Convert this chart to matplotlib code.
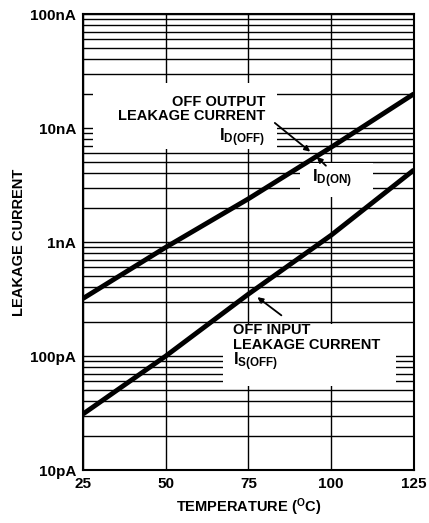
import matplotlib
matplotlib.use('Agg')
import matplotlib.pyplot as plt
from matplotlib.patches import Rectangle
from matplotlib.ticker import LogLocator, NullFormatter

plt.rcParams['font.family'] = ['Liberation Sans', 'DejaVu Sans']
plt.rcParams['font.weight'] = 'bold'
plt.rcParams['mathtext.default'] = 'regular'

# data
temp = [25, 50, 75, 100, 125]
i_d_off = [0.32e-9, 0.9e-9, 2.4e-9, 6.8e-9, 20e-9]
i_s_off = [31e-12, 100e-12, 0.35e-9, 1.15e-9, 4.3e-9]

x_ticks = [25, 50, 75, 100, 125]
y_ticks = [1e-11, 1e-10, 1e-9, 1e-8, 1e-7]
y_labels = ['10pA', '100pA', '1nA', '10nA', '100nA']

fig = plt.figure(figsize=(4.29, 5.23), dpi=100)
ax = fig.add_axes([0.1935, 0.1013, 0.7715, 0.8717])

ax.set_yscale('log')
ax.set_xlim(25, 125)
ax.set_ylim(1e-11, 1e-7)
ax.set_xticks(x_ticks)
ax.set_xticklabels([str(t) for t in x_ticks], fontsize=11, fontweight='bold')
ax.set_yticks(y_ticks)
ax.set_yticklabels(y_labels, fontsize=11, fontweight='bold')
ax.yaxis.set_minor_locator(LogLocator(base=10, subs=range(2, 10)))
ax.yaxis.set_minor_formatter(NullFormatter())
ax.tick_params(which='both', length=0, pad=5)

ax.set_axisbelow(True)
ax.grid(True, which='both', axis='y', color='black', lw=1.0)
ax.grid(True, which='major', axis='x', color='black', lw=1.0)
for s in ax.spines.values():
    s.set_linewidth(1.5)

# white blanks behind the labels
for x0, x1, y0, y1 in [(28, 83.6, 6.5e-9, 25e-9),
                       (90.6, 112.6, 2.5e-9, 4.9e-9),
                       (67.3, 119.6, 55e-12, 0.19e-9)]:
    ax.add_patch(Rectangle((x0, y0), x1 - x0, y1 - y0, facecolor='white',
                           edgecolor='none', zorder=1))

ax.plot(temp, i_d_off, color='black', lw=3.5, zorder=3, solid_capstyle='butt')
ax.plot(temp, i_s_off, color='black', lw=3.5, zorder=3, solid_capstyle='butt')

kw = dict(fontsize=10.5, fontweight='bold', va='center', zorder=4)
sub = dict(fontsize=12, fontweight='bold', va='center', zorder=4)
ax.text(80, 16.9e-9, 'OFF OUTPUT', ha='right', **kw)
ax.text(80, 12.7e-9, 'LEAKAGE CURRENT', ha='right', **kw)
ax.text(80, 8.3e-9, r'$\mathregular{I_{D(OFF)}}$', ha='right', **sub)
ax.text(94.3, 3.6e-9, r'$\mathregular{I_{D(ON)}}$', ha='left', **sub)
ax.text(70.3, 0.169e-9, 'OFF INPUT', ha='left', **kw)
ax.text(70.3, 0.125e-9, 'LEAKAGE CURRENT', ha='left', **kw)
ax.text(70.3, 90e-12, r'$\mathregular{I_{S(OFF)}}$', ha='left', **sub)

arrow = dict(arrowstyle='-|>', color='black', lw=1.3, mutation_scale=8)
ax.annotate('', xy=(94.3, 6.0e-9), xytext=(82.3, 11.5e-9), arrowprops=arrow, zorder=4)
ax.annotate('', xy=(95, 5.8e-9), xytext=(99, 4.5e-9), arrowprops=arrow, zorder=4)
ax.annotate('', xy=(77, 0.34e-9), xytext=(85.6, 0.22e-9), arrowprops=arrow, zorder=4)

ax.set_xlabel(r'TEMPERATURE ($^\mathregular{O}$C)', fontsize=10.5, fontweight='bold', labelpad=4)
ax.set_ylabel('LEAKAGE CURRENT', fontsize=10.5, fontweight='bold', labelpad=3)

fig.savefig('out.png', dpi=100)
